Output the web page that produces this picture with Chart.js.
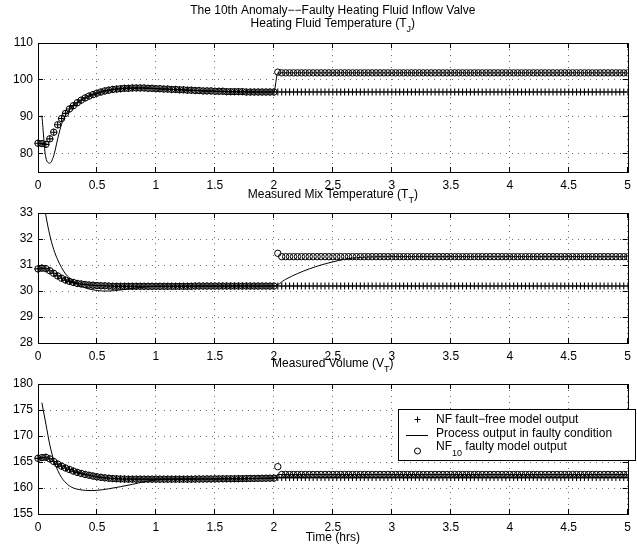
<!DOCTYPE html>
<html>
<head>
<meta charset="utf-8">
<script src="https://cdn.jsdelivr.net/npm/chart.js@4.4.0/dist/chart.umd.min.js"></script>
<style>
	body { margin: 0; background: #fff; }
	#wrap { position: relative; width: 637px; height: 557px; }
	#wrap canvas { position: absolute; left: 0; }
</style>
</head>
<body>
<div id="wrap">
	<canvas id="tjChart" width="637" height="200" style="top:0px"></canvas>
	<canvas id="ttChart" width="637" height="200" style="top:170px"></canvas>
	<canvas id="vtChart" width="637" height="216" style="top:341px"></canvas>
</div>
<script>
// model outputs are sampled every 2 minutes (1/30 hr), valve fault at t = 2 hrs
const sampleStep = 1 / 30
const faultIndex = 61

const xTicks = [ 0, 0.5, 1, 1.5, 2, 2.5, 3, 3.5, 4, 4.5, 5 ]
const yTicksTJ = [ 80, 90, 100, 110 ]
const yTicksTT = [ 28, 29, 30, 31, 32, 33 ]
const yTicksVT = [ 155, 160, 165, 170, 175, 180 ]

// heating fluid temperature T_J
const nfFreeTJ = [
	82.8, 82.7, 82.5, 84.0, 85.8, 87.8, 89.5, 90.9, 92.1, 93.0,
	93.8, 94.5, 95.1, 95.6, 96.0, 96.4, 96.7, 97.0, 97.2, 97.4,
	97.5, 97.6, 97.7, 97.7, 97.8, 97.8, 97.8, 97.8, 97.7, 97.7,
	97.6, 97.6, 97.5, 97.5, 97.4, 97.4, 97.3, 97.3, 97.2, 97.2,
	97.1, 97.1, 97.0, 97.0, 97.0, 96.9, 96.9, 96.9, 96.8, 96.8,
	96.8, 96.8, 96.8, 96.7, 96.7, 96.7, 96.7, 96.7, 96.7, 96.7,
	96.7, 96.7, 96.7, 96.7, 96.7, 96.7, 96.7, 96.7, 96.7, 96.7,
	96.7, 96.7, 96.7, 96.7, 96.7, 96.7, 96.7, 96.7, 96.7, 96.7,
	96.7, 96.7, 96.7, 96.7, 96.7, 96.7, 96.7, 96.7, 96.7, 96.7,
	96.7, 96.7, 96.7, 96.7, 96.7, 96.7, 96.7, 96.7, 96.7, 96.7,
	96.7, 96.7, 96.7, 96.7, 96.7, 96.7, 96.7, 96.7, 96.7, 96.7,
	96.7, 96.7, 96.7, 96.7, 96.7, 96.7, 96.7, 96.7, 96.7, 96.7,
	96.7, 96.7, 96.7, 96.7, 96.7, 96.7, 96.7, 96.7, 96.7, 96.7,
	96.7, 96.7, 96.7, 96.7, 96.7, 96.7, 96.7, 96.7, 96.7, 96.7,
	96.7, 96.7, 96.7, 96.7, 96.7, 96.7, 96.7, 96.7, 96.7, 96.7,
	96.7
]
const nf10TJAfter = [
	102.1, 101.9, 101.9, 101.9, 101.9, 101.9, 101.9, 101.9, 101.9, 101.9,
	101.9, 101.9, 101.9, 101.9, 101.9, 101.9, 101.9, 101.9, 101.9, 101.9,
	101.9, 101.9, 101.9, 101.9, 101.9, 101.9, 101.9, 101.9, 101.9, 101.9,
	101.9, 101.9, 101.9, 101.9, 101.9, 101.9, 101.9, 101.9, 101.9, 101.9,
	101.9, 101.9, 101.9, 101.9, 101.9, 101.9, 101.9, 101.9, 101.9, 101.9,
	101.9, 101.9, 101.9, 101.9, 101.9, 101.9, 101.9, 101.9, 101.9, 101.9,
	101.9, 101.9, 101.9, 101.9, 101.9, 101.9, 101.9, 101.9, 101.9, 101.9,
	101.9, 101.9, 101.9, 101.9, 101.9, 101.9, 101.9, 101.9, 101.9, 101.9,
	101.9, 101.9, 101.9, 101.9, 101.9, 101.9, 101.9, 101.9, 101.9, 101.9
]
const processTimeTJ = [ 0.033, 0.067, 0.1, 0.133, 0.167, 0.2, 0.233, 0.267, 0.3, 0.333, 0.4, 0.5, 0.6, 0.7, 0.8, 0.9, 1.0, 1.2, 1.5, 2.0, 2.033, 5.0 ]
const processTJ = [ 90.3, 78.8, 77.4, 79.4, 84.0, 88.0, 90.4, 92.0, 93.0, 93.8, 95.1, 96.4, 97.2, 97.6, 97.8, 97.8, 97.6, 97.3, 96.9, 96.7, 101.9, 101.9 ]

// measured mix temperature T_T
const nfFreeTT = [
	30.85, 30.88, 30.86, 30.78, 30.68, 30.58, 30.49, 30.42, 30.37, 30.33,
	30.29, 30.27, 30.25, 30.23, 30.22, 30.21, 30.20, 30.20, 30.19, 30.18,
	30.18, 30.18, 30.18, 30.18, 30.18, 30.18, 30.18, 30.18, 30.18, 30.18,
	30.18, 30.18, 30.18, 30.18, 30.18, 30.18, 30.18, 30.18, 30.18, 30.18,
	30.19, 30.19, 30.19, 30.19, 30.19, 30.19, 30.19, 30.19, 30.19, 30.19,
	30.19, 30.19, 30.19, 30.19, 30.19, 30.19, 30.19, 30.19, 30.19, 30.19,
	30.19, 30.19, 30.19, 30.19, 30.19, 30.19, 30.19, 30.19, 30.19, 30.19,
	30.19, 30.19, 30.19, 30.19, 30.19, 30.19, 30.19, 30.19, 30.19, 30.19,
	30.19, 30.19, 30.19, 30.19, 30.19, 30.19, 30.19, 30.19, 30.19, 30.19,
	30.19, 30.19, 30.19, 30.19, 30.19, 30.19, 30.19, 30.19, 30.19, 30.19,
	30.19, 30.19, 30.19, 30.19, 30.19, 30.19, 30.19, 30.19, 30.19, 30.19,
	30.19, 30.19, 30.19, 30.19, 30.19, 30.19, 30.19, 30.19, 30.19, 30.19,
	30.19, 30.19, 30.19, 30.19, 30.19, 30.19, 30.19, 30.19, 30.19, 30.19,
	30.19, 30.19, 30.19, 30.19, 30.19, 30.19, 30.19, 30.19, 30.19, 30.19,
	30.19, 30.19, 30.19, 30.19, 30.19, 30.19, 30.19, 30.19, 30.19, 30.19,
	30.19
]
const nf10TTAfter = [
	31.45, 31.32, 31.32, 31.32, 31.32, 31.32, 31.32, 31.32, 31.32, 31.32,
	31.32, 31.32, 31.32, 31.32, 31.32, 31.32, 31.32, 31.32, 31.32, 31.32,
	31.32, 31.32, 31.32, 31.32, 31.32, 31.32, 31.32, 31.32, 31.32, 31.32,
	31.32, 31.32, 31.32, 31.32, 31.32, 31.32, 31.32, 31.32, 31.32, 31.32,
	31.32, 31.32, 31.32, 31.32, 31.32, 31.32, 31.32, 31.32, 31.32, 31.32,
	31.32, 31.32, 31.32, 31.32, 31.32, 31.32, 31.32, 31.32, 31.32, 31.32,
	31.32, 31.32, 31.32, 31.32, 31.32, 31.32, 31.32, 31.32, 31.32, 31.32,
	31.32, 31.32, 31.32, 31.32, 31.32, 31.32, 31.32, 31.32, 31.32, 31.32,
	31.32, 31.32, 31.32, 31.32, 31.32, 31.32, 31.32, 31.32, 31.32, 31.32
]
const processTimeTT = [ 0.033, 0.067, 0.1, 0.133, 0.167, 0.2, 0.233, 0.267, 0.3, 0.35, 0.4, 0.45, 0.5, 0.55, 0.6, 0.7, 0.8, 0.9, 1.0, 1.5, 2.0, 2.1, 2.2, 2.3, 2.4, 2.5, 2.6, 2.7, 2.8, 3.0, 5.0 ]
const processTT = [ 33.9, 32.9, 32.15, 31.6, 31.2, 30.9, 30.66, 30.5, 30.36, 30.22, 30.12, 30.06, 30.02, 30.0, 30.0, 30.04, 30.1, 30.15, 30.18, 30.19, 30.19, 30.45, 30.67, 30.85, 31.0, 31.12, 31.22, 31.28, 31.31, 31.32, 31.32 ]

// measured volume V_T
const nfFreeVT = [
	165.7, 165.85, 165.9, 165.6, 165.1, 164.6, 164.2, 163.85, 163.55, 163.25,
	163.0, 162.8, 162.6, 162.45, 162.3, 162.15, 162.05, 161.95, 161.88, 161.82,
	161.78, 161.74, 161.72, 161.7, 161.7, 161.7, 161.7, 161.7, 161.7, 161.7,
	161.7, 161.7, 161.7, 161.7, 161.7, 161.7, 161.7, 161.7, 161.7, 161.7,
	161.72, 161.72, 161.73, 161.74, 161.74, 161.75, 161.76, 161.77, 161.78, 161.78,
	161.79, 161.8, 161.81, 161.82, 161.83, 161.84, 161.85, 161.86, 161.88, 161.89,
	161.9, 162.0, 162.0, 162.0, 162.0, 162.0, 162.0, 162.0, 162.0, 162.0,
	162.0, 162.0, 162.0, 162.0, 162.0, 162.0, 162.0, 162.0, 162.0, 162.0,
	162.0, 162.0, 162.0, 162.0, 162.0, 162.0, 162.0, 162.0, 162.0, 162.0,
	162.0, 162.0, 162.0, 162.0, 162.0, 162.0, 162.0, 162.0, 162.0, 162.0,
	162.0, 162.0, 162.0, 162.0, 162.0, 162.0, 162.0, 162.0, 162.0, 162.0,
	162.0, 162.0, 162.0, 162.0, 162.0, 162.0, 162.0, 162.0, 162.0, 162.0,
	162.0, 162.0, 162.0, 162.0, 162.0, 162.0, 162.0, 162.0, 162.0, 162.0,
	162.0, 162.0, 162.0, 162.0, 162.0, 162.0, 162.0, 162.0, 162.0, 162.0,
	162.0, 162.0, 162.0, 162.0, 162.0, 162.0, 162.0, 162.0, 162.0, 162.0,
	162.0
]
const nf10VTAfter = [
	164.1, 162.6, 162.6, 162.6, 162.6, 162.6, 162.6, 162.6, 162.6, 162.6,
	162.6, 162.6, 162.6, 162.6, 162.6, 162.6, 162.6, 162.6, 162.6, 162.6,
	162.6, 162.6, 162.6, 162.6, 162.6, 162.6, 162.6, 162.6, 162.6, 162.6,
	162.6, 162.6, 162.6, 162.6, 162.6, 162.6, 162.6, 162.6, 162.6, 162.6,
	162.6, 162.6, 162.6, 162.6, 162.6, 162.6, 162.6, 162.6, 162.6, 162.6,
	162.6, 162.6, 162.6, 162.6, 162.6, 162.6, 162.6, 162.6, 162.6, 162.6,
	162.6, 162.6, 162.6, 162.6, 162.6, 162.6, 162.6, 162.6, 162.6, 162.6,
	162.6, 162.6, 162.6, 162.6, 162.6, 162.6, 162.6, 162.6, 162.6, 162.6,
	162.6, 162.6, 162.6, 162.6, 162.6, 162.6, 162.6, 162.6, 162.6, 162.6
]
const processTimeVT = [ 0.033, 0.067, 0.1, 0.133, 0.167, 0.2, 0.25, 0.3, 0.35, 0.4, 0.45, 0.5, 0.6, 0.7, 0.8, 0.9, 1.0, 1.1, 1.5, 2.0, 2.033, 5.0 ]
const processVT = [ 176.4, 172.3, 168.3, 165.4, 163.4, 162.0, 160.7, 160.0, 159.7, 159.55, 159.5, 159.55, 159.85, 160.25, 160.7, 161.2, 161.55, 161.7, 161.75, 161.9, 162.6, 162.6 ]

const FONT = '"Liberation Sans", Arial, Helvetica, sans-serif'
Chart.defaults.font.family = FONT
Chart.defaults.font.size = 12
Chart.defaults.color = '#000'

const sampled = (values) => values.map((v, i) => ({ x: i * sampleStep, y: v }))
const paired = (times, values) => times.map((t, i) => ({ x: t, y: values[i] }))
const crisp = (p) => Math.round(p - 0.5) + 0.5

// text with optional subscript pieces, centred on cx
const richText = (ctx, parts, cx, y) => {
	const widths = parts.map(p => {
		ctx.font = (p.sub ? 9 : 12) + 'px ' + FONT
		return ctx.measureText(p.text).width
	})
	let x = cx - widths.reduce((a, b) => a + b, 0) / 2
	parts.forEach((p, i) => {
		ctx.font = (p.sub ? 9 : 12) + 'px ' + FONT
		ctx.fillText(p.text, x, p.sub ? y + 4.5 : y)
		x += widths[i]
	})
}

const drawLegend = (ctx) => {
	ctx.fillStyle = '#fff'
	ctx.fillRect(398, 68, 238, 51)
	ctx.strokeRect(398.5, 68.5, 237, 51)
	ctx.beginPath()
	ctx.moveTo(414.5, 78.5); ctx.lineTo(420.5, 78.5)
	ctx.moveTo(417.5, 75.5); ctx.lineTo(417.5, 81.5)
	ctx.moveTo(406, 94.5); ctx.lineTo(428, 94.5)
	ctx.stroke()
	ctx.beginPath()
	ctx.arc(417.5, 110, 3, 0, Math.PI * 2)
	ctx.stroke()
	ctx.fillStyle = '#000'
	ctx.textAlign = 'left'
	ctx.font = '12px ' + FONT
	ctx.fillText('NF fault\u2212free model output', 436, 81.5)
	ctx.fillText('Process output in faulty condition', 436, 96)
	ctx.fillText('NF', 436, 108.5)
	const nfW = ctx.measureText('NF').width
	ctx.font = '9px ' + FONT
	ctx.fillText('10', 436 + nfW, 115)
	const subW = ctx.measureText('10').width
	ctx.font = '12px ' + FONT
	ctx.fillText(' faulty model output', 436 + nfW + subW, 108.5)
}

// box, inward tick marks, titles and legend
const framePlugin = {
	id: 'frame',
	afterDraw(chart, args, opts) {
		const { ctx, chartArea: a, scales: { x, y } } = chart
		ctx.save()
		ctx.strokeStyle = '#000'
		ctx.lineWidth = 1
		ctx.beginPath()
		x.ticks.forEach(t => {
			const px = crisp(x.getPixelForValue(t.value))
			ctx.moveTo(px, a.bottom); ctx.lineTo(px, a.bottom - 5)
			ctx.moveTo(px, a.top); ctx.lineTo(px, a.top + 5)
		})
		y.ticks.forEach(t => {
			const py = crisp(y.getPixelForValue(t.value))
			ctx.moveTo(a.left, py); ctx.lineTo(a.left + 5, py)
			ctx.moveTo(a.right, py); ctx.lineTo(a.right - 5, py)
		})
		ctx.stroke()
		ctx.strokeRect(crisp(a.left), crisp(a.top), Math.round(a.right - a.left), Math.round(a.bottom - a.top))
		ctx.fillStyle = '#000'
		ctx.textAlign = 'left'
		ctx.textBaseline = 'alphabetic'
		const cx = (a.left + a.right) / 2
		opts.titles.forEach(line => richText(ctx, line.parts, cx, line.y))
		if (opts.legend) drawLegend(ctx)
		ctx.restore()
	}
}

const subplot = (canvasId, cfg) => {
	const canvas = document.getElementById(canvasId)
	return new Chart(canvas, {
		type: 'scatter',
		data: {
			datasets: [ {
				label: 'NF fault-free model output',
				data: sampled(cfg.nfFree),
				pointStyle: 'cross',
				pointRadius: 3.5,
				pointBorderWidth: 1.1,
				borderColor: '#000',
				backgroundColor: 'rgba(0,0,0,0)',
				clip: { left: 5, top: 0, right: 0, bottom: 0 }
			}, {
				label: 'Process output in faulty condition',
				data: paired(cfg.processTime, cfg.process),
				showLine: true,
				pointRadius: 0,
				borderColor: '#000',
				borderWidth: 1,
				cubicInterpolationMode: 'monotone'
			}, {
				label: 'NF10 faulty model output',
				data: sampled(cfg.nfFree.slice(0, faultIndex).concat(cfg.nf10After)),
				pointStyle: 'circle',
				pointRadius: 3.2,
				pointBorderWidth: 1,
				borderColor: '#000',
				backgroundColor: 'rgba(0,0,0,0)',
				clip: { left: 5, top: 0, right: 0, bottom: 0 }
			} ]
		},
		options: {
			responsive: false,
			animation: false,
			events: [],
			layout: { padding: { top: 43, left: 0, right: 4, bottom: cfg.padBottom } },
			plugins: {
				legend: { display: false },
				tooltip: { enabled: false },
				frame: { titles: cfg.titles, legend: cfg.legend }
			},
			scales: {
				x: {
					type: 'linear',
					min: 0,
					max: 5,
					afterBuildTicks: s => { s.ticks = xTicks.map(v => ({ value: v })) },
					afterFit: s => { s.height = 20 },
					ticks: { padding: 6, maxRotation: 0, callback: v => String(v) },
					grid: { color: '#6e6e6e', drawTicks: false },
					border: { display: false, dash: [ 1, 5 ] }
				},
				y: {
					min: cfg.yMin,
					max: cfg.yMax,
					afterBuildTicks: s => { s.ticks = cfg.yTicks.map(v => ({ value: v })) },
					afterFit: s => { s.width = 38 },
					ticks: { padding: 5, callback: v => String(v) },
					grid: { color: '#6e6e6e', drawTicks: false },
					border: { display: false, dash: [ 1, 5 ] }
				}
			}
		},
		plugins: [ framePlugin ]
	})
}

subplot('tjChart', {
	nfFree: nfFreeTJ, nf10After: nf10TJAfter, processTime: processTimeTJ, process: processTJ,
	yMin: 75, yMax: 110, yTicks: yTicksTJ, padBottom: 8, legend: false,
	titles: [
		{ y: 13.5, parts: [ { text: 'The 10th Anomaly\u2212\u2212Faulty Heating Fluid Inflow Valve' } ] },
		{ y: 27, parts: [ { text: 'Heating Fluid Temperature (T' }, { text: 'J', sub: true }, { text: ')' } ] }
	]
})

subplot('ttChart', {
	nfFree: nfFreeTT, nf10After: nf10TTAfter, processTime: processTimeTT, process: processTT,
	yMin: 28, yMax: 33, yTicks: yTicksTT, padBottom: 7, legend: false,
	titles: [
		{ y: 28, parts: [ { text: 'Measured Mix Temperature (T' }, { text: 'T', sub: true }, { text: ')' } ] }
	]
})

subplot('vtChart', {
	nfFree: nfFreeVT, nf10After: nf10VTAfter, processTime: processTimeVT, process: processVT,
	yMin: 155, yMax: 180, yTicks: yTicksVT, padBottom: 23, legend: true,
	titles: [
		{ y: 26, parts: [ { text: 'Measured Volume (V' }, { text: 'T', sub: true }, { text: ')' } ] },
		{ y: 200, parts: [ { text: 'Time (hrs)' } ] }
	]
})
</script>
</body>
</html>
